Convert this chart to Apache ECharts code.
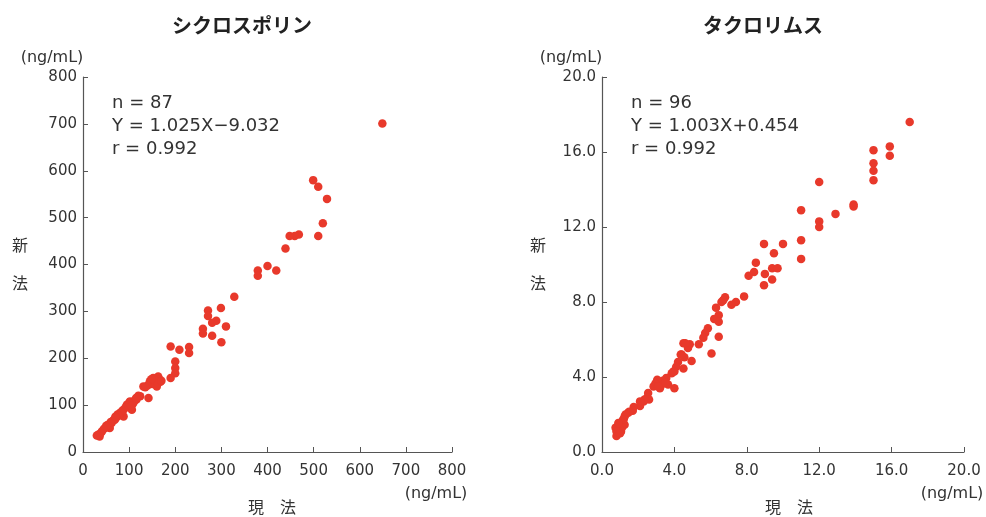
<!DOCTYPE html>
<html><head><meta charset="utf-8">
<script src="https://cdn.jsdelivr.net/npm/echarts@6/dist/echarts.min.js"></script>
<style>html,body{margin:0;padding:0;background:#fff}#c{width:986px;height:517px}</style>
</head><body><div id="c"></div>
<script>
// Titles and stats
const titles = ['シクロスポリン', 'タクロリムス'];
const statsCyclo = ['n = 87', 'Y = 1.025X−9.032', 'r = 0.992'];
const statsTacro = ['n = 96', 'Y = 1.003X+0.454', 'r = 0.992'];
const unitLabel = '(ng/mL)';
const xAxisName = '現　法';
const yAxisName = ['新', '法'];

// Tick settings
const cycloTicks = [0, 100, 200, 300, 400, 500, 600, 700, 800];
const tacroTicks = [0, 4, 8, 12, 16, 20];

// Cyclosporine: current method (X) vs new method (Y)
const cycloX = [649,499,510,529,520,510,468,459,448,439,379,379,400,419,328,271,271,299,289,280,310,260,260,280,300,
  190,209,230,230,200,200,200,190,163,152,145,156,168,160,131,155,165,158,142,124,116,102,109,95,106,88,80,75,88,69,62,55,58,48,41,33,36,
  150,162,170,148,140,135,120,112,98,92,85,83,78,72,66,60,52,50,45,38,30,100,115,105,70];
const cycloY = [701,580,566,540,488,461,464,461,461,434,387,376,397,387,331,302,290,307,280,276,268,263,253,248,234,
  225,218,224,211,193,179,168,158,161,158,151,148,150,140,140,155,155,152,115,119,112,108,104,101,90,90,83,80,76,69,62,58,51,51,44,37,33,
  145,146,152,155,142,138,120,110,100,95,88,85,78,73,68,64,57,55,49,40,35,105,115,98,75];

// Tacrolimus
const tacroX = [17.0,15.9,15.9,15.0,15.0,15.0,15.0,12.0,13.9,13.9,12.9,12.0,12.0,11.0,11.0,11.0,8.95,10.0,9.5,8.5,8.4,8.1,9.0,9.4,9.7,9.4,8.95,7.85,7.4,7.15,6.8,6.7,6.6,6.3,6.45,6.2,6.45,6.45,5.85,5.7,5.6,5.35,6.05,
  4.5,4.85,4.75,4.35,4.55,4.95,4.5,4.2,4.1,4.0,3.85,4.0,3.55,3.35,3.3,3.05,2.95,2.85,3.2,3.65,2.55,2.5,2.6,2.3,2.1,1.75,1.7,1.45,1.25,1.15,1.05,0.95,0.85,1.25,1.1,1.0,0.9,0.8,1.05,0.75,
  3.5,3.1,2.35,2.1,1.5,1.3,1.2,0.9,0.8,1.0,4.4,4.6,3.95];
const tacroY = [17.6,16.3,15.8,16.1,15.4,15.0,14.5,14.4,13.2,13.1,12.7,12.3,12.0,12.9,11.3,10.3,11.1,11.1,10.6,10.1,9.6,9.4,9.5,9.8,9.8,9.2,8.9,8.3,8.0,7.85,8.25,8.1,8.0,7.7,7.3,7.1,6.95,6.15,6.6,6.35,6.1,5.75,5.25,
  5.8,5.75,5.55,5.2,5.05,4.85,4.45,4.8,4.55,4.3,4.2,3.4,3.95,3.8,3.6,3.85,3.65,3.5,3.4,3.6,3.15,2.9,2.8,2.7,2.45,2.4,2.2,2.1,1.9,1.7,1.55,1.45,1.35,1.45,1.3,1.2,1.05,0.85,1.1,1.3,
  3.7,3.5,2.8,2.7,2.15,2.0,1.75,1.55,1.1,1.0,5.2,5.8,4.3];

function pairs(xs, ys) { return xs.map((x, i) => [x, ys[i]]); }

const FONT = '"Noto Sans CJK JP", "Noto Sans", sans-serif';
const LFONT = '"DejaVu Sans", sans-serif';
const AX = '#555';
const TXT = '#333';
const RED = '#e8392b';

function axisBase(min, max, interval, fmt, margin) {
  return {
    type: 'value', min: min, max: max, interval: interval,
    axisLine: { show: true, lineStyle: { color: AX, width: 1.2 } },
    axisTick: { show: true, inside: true, length: 5, lineStyle: { color: AX } },
    splitLine: { show: false },
    axisLabel: { color: TXT, fontSize: 15, fontFamily: LFONT, formatter: fmt, margin: margin }
  };
}

const chart = echarts.init(document.getElementById('c'));

function txt(x, y, text, opts) {
  return {
    type: 'text', x: x, y: y,
    style: Object.assign({ text: text, fill: TXT, font: '16px ' + LFONT, textAlign: 'center', textVerticalAlign: 'middle' }, opts || {})
  };
}

const graphics = [];
// units on top
graphics.push(txt(52, 58, unitLabel));
graphics.push(txt(571, 58, unitLabel));
// units at bottom
graphics.push(txt(436, 494, unitLabel));
graphics.push(txt(952, 494, unitLabel));
// x axis names
graphics.push(txt(272, 507, xAxisName, { font: '16px ' + FONT }));
graphics.push(txt(789, 507, xAxisName, { font: '16px ' + FONT }));
// y axis names
[20, 538].forEach(x => {
  graphics.push(txt(x, 245, yAxisName[0], { font: '16px ' + FONT }));
  graphics.push(txt(x, 283, yAxisName[1], { font: '16px ' + FONT }));
});
// stats
statsCyclo.forEach((s, i) => graphics.push(txt(112, 103 + i * 23, s, { textAlign: 'left', font: '18px ' + LFONT })));
statsTacro.forEach((s, i) => graphics.push(txt(631, 103 + i * 23, s, { textAlign: 'left', font: '18px ' + LFONT })));

chart.setOption({
  animation: false,
  backgroundColor: '#fff',
  title: [
    { text: titles[0], left: 237, top: 10, textAlign: 'center', textStyle: { fontSize: 20, fontWeight: 'bold', color: '#222', fontFamily: FONT } },
    { text: titles[1], left: 758, top: 10, textAlign: 'center', textStyle: { fontSize: 20, fontWeight: 'bold', color: '#222', fontFamily: FONT } }
  ],
  grid: [
    { left: 83, top: 77, width: 369, height: 375 },
    { left: 602, top: 77, width: 362, height: 375 }
  ],
  xAxis: [
    Object.assign(axisBase(cycloTicks[0], cycloTicks[cycloTicks.length - 1], 100, v => String(v), 12), { gridIndex: 0 }),
    Object.assign(axisBase(tacroTicks[0], tacroTicks[tacroTicks.length - 1], 4, v => v.toFixed(1), 12), { gridIndex: 1 })
  ],
  yAxis: [
    Object.assign(axisBase(cycloTicks[0], cycloTicks[cycloTicks.length - 1], 100, v => String(v), 6), { gridIndex: 0 }),
    Object.assign(axisBase(tacroTicks[0], tacroTicks[tacroTicks.length - 1], 4, v => v.toFixed(1), 6), { gridIndex: 1 })
  ],
  series: [
    { type: 'scatter', xAxisIndex: 0, yAxisIndex: 0, data: pairs(cycloX, cycloY), symbolSize: 8.5, itemStyle: { color: RED, opacity: 1 } },
    { type: 'scatter', xAxisIndex: 1, yAxisIndex: 1, data: pairs(tacroX, tacroY), symbolSize: 8.5, itemStyle: { color: RED, opacity: 1 } }
  ],
  graphic: graphics
});
</script>
</body></html>
